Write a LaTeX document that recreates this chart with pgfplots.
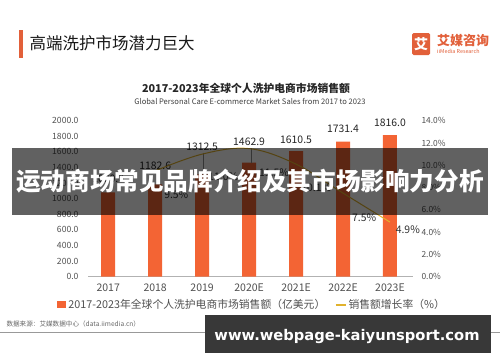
\documentclass[border=0pt]{standalone}
\usepackage{pgfplots}
\pgfplotsset{compat=1.18}
\usepackage{fontspec}
\setmainfont{Noto Sans CJK SC}
\newfontfamily\urlfont{DejaVu Sans}
\definecolor{barorange}{RGB}{243,100,52}
\definecolor{lineyellow}{RGB}{225,178,45}
\definecolor{ticktext}{RGB}{80,80,80}
\definecolor{brand}{RGB}{226,96,58}
\begin{document}
\begin{tikzpicture}[x=1pt,y=1pt]
\useasboundingbox (0,0) rectangle (500,-362);
\fill[white] (0,0) rectangle (500,-362);
\coordinate (AX) at (88,-276.7);
% page title
\fill[brand] (19,-30) rectangle (23,-58);
\node[anchor=west, text=black!90, font=\fontsize{16.5}{18}\selectfont] at (26,-43) {高端洗护市场潜力巨大};
% logo
\fill[brand, rounded corners=1.5pt] (412,-33) rectangle (430,-55);
\node[text=white, font=\bfseries\fontsize{14}{14}\selectfont] at (421,-44) {艾};
\node[anchor=west, inner sep=0pt, text=brand, font=\bfseries\fontsize{13}{13}\selectfont] at (437,-40) {艾媒咨询};
\node[anchor=west, inner sep=0pt, text=brand, font=\fontsize{5.4}{6}\selectfont] at (437,-51) {iiMedia Research};
% chart titles
\node[text=black!85, font=\bfseries\fontsize{10.8}{12}\selectfont] at (246,-88) {2017-2023年全球个人洗护电商市场销售额};
\node[text=black!75, font=\fontsize{7.6}{9}\selectfont] at (250,-101) {Global Personal Care E-commerce Market Sales from 2017 to 2023};

\begin{axis}[
  at={(AX)}, anchor=south west, scale only axis,
  width=325pt, height=156pt,
  xmin=-0.43, xmax=6.49, ymin=0, ymax=2000,
  axis x line*=bottom, axis y line*=left,
  x axis line style={draw=black!30, line width=0.8pt},
  y axis line style={draw=none},
  xtick={0,...,6}, xticklabels={2017,2018,2019,2020E,2021E,2022E,2023E},
  ytick={0,200,...,2000},
  tick style={draw=none},
  /pgf/number format/assume math mode=true,
  yticklabel style={/pgf/number format/fixed, /pgf/number format/fixed zerofill, /pgf/number format/precision=1, /pgf/number format/1000 sep={}},
  ticklabel style={text=ticktext},
  yticklabel style={font=\fontsize{8.6}{10}\selectfont, xshift=-6pt},
  xticklabel style={font=\fontsize{10.5}{12}\selectfont, yshift=-4pt},
  legend style={at={(0.505,-0.181)}, anchor=center, draw=none, fill=none,
    font=\fontsize{10.8}{12}\selectfont, text=ticktext,
    /tikz/every even column/.append style={column sep=8pt}},
  legend columns=2,
  clip=false,
]
\addplot[ybar, bar width=14pt, fill=barorange, draw=none,
  legend image code/.code={\fill[barorange] (0pt,-3.5pt) rectangle (9pt,3.5pt);}]
  coordinates {(0,1080.0) (1,1182.6) (2,1312.5) (3,1462.9) (4,1610.5) (5,1731.4) (6,1816.0)};
\addlegendentry{2017-2023年全球个人洗护电商市场销售额（亿美元）}
\addlegendimage{legend image code/.code={\draw[lineyellow, line width=1.2pt] (0pt,0pt) -- (10pt,0pt);}}
\addlegendentry{销售额增长率（\%）}
% leader lines
\draw[black!45, line width=0.4pt] (axis cs:2.02,1590) -- (axis cs:2.02,1312.5);
\draw[black!45, line width=0.4pt] (axis cs:3.05,1650) -- (axis cs:3.05,1462.9);
% bar value labels
\begin{scope}[every node/.style={text=black!85, font=\fontsize{10.4}{12}\selectfont}]
\node at (axis cs:0,1260) {1080.0};
\node at (axis cs:1,1419) {1182.6};
\node at (axis cs:2,1663) {1312.5};
\node at (axis cs:3,1731) {1462.9};
\node at (axis cs:4,1761) {1610.5};
\node at (axis cs:5,1890) {1731.4};
\node at (axis cs:6,1970) {1816.0};
\end{scope}
\end{axis}

\begin{axis}[
  at={(AX)}, anchor=south west, scale only axis,
  width=325pt, height=156pt,
  xmin=-0.43, xmax=6.49, ymin=0, ymax=14,
  axis x line=none, axis y line*=right,
  y axis line style={draw=none},
  ytick={0,2,...,14},
  tick style={draw=none},
  yticklabel={\pgfmathprintnumber[fixed,fixed zerofill,precision=1,assume math mode=true]{\tick}\%},
  yticklabel style={text=ticktext, font=\fontsize{8.4}{10}\selectfont, xshift=5pt},
  clip=false,
]
\addplot[lineyellow, line width=1pt, smooth, tension=0.6]
  coordinates {(1,9.5) (2,11.0) (3,11.5) (4,10.1) (5,7.5) (6,4.9)};
\begin{scope}[every node/.style={text=black!80, font=\fontsize{10.4}{12}\selectfont}]
\node at (axis cs:1.45,7.4) {9.5\%};
\node at (axis cs:2.45,9.0) {11.0\%};
\node at (axis cs:3.53,9.3) {11.5\%};
\node at (axis cs:4.43,7.95) {10.1\%};
\node at (axis cs:5.45,5.27) {7.5\%};
\node at (axis cs:6.38,4.19) {4.9\%};
\end{scope}
\end{axis}

% footer
\node[anchor=west, text=black!60, font=\fontsize{6.6}{8}\selectfont] at (3,-324) {数据来源：艾媒数据中心（data.iimedia.cn）};
\draw[black!40, line width=0.8pt] (0,-332) -- (500,-332);

% overlays
\fill[black, opacity=0.62] (12,-148) rectangle (488,-215);
\node[text=white, font=\bfseries\fontsize{24.6}{26}\selectfont] at (250,-181.5) {运动商场常见品牌介绍及其市场影响力分析};
\fill[black!78] (205,-315) rectangle (491,-353);
\node[text=white] at (347,-336) {\resizebox{265pt}{!}{\urlfont\bfseries www.webpage-kaiyunsport.com}};
\end{tikzpicture}
\end{document}
